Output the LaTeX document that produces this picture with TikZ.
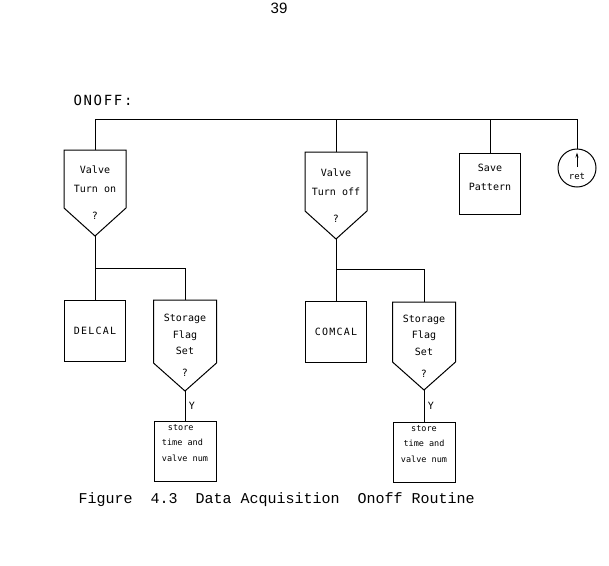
\documentclass[tikz,border=0pt]{standalone}
\usepackage{fontspec}
\setmainfont{Liberation Sans}
\newfontfamily\plotfont{DejaVu Sans Mono}
\newfontfamily\widefont[LetterSpace=12]{DejaVu Sans Mono}
\newfontfamily\typefont{Liberation Mono}
\usetikzlibrary{arrows.meta,positioning}

\begin{document}
\begin{tikzpicture}[x=1pt,y=-1pt,line width=1pt,
		font=\plotfont\fontsize{10}{12}\selectfont,
		decide/.style={rectangle,anchor=north,minimum width=61pt,minimum height=86pt,inner sep=1pt,align=center},
		procbox/.style={draw,rectangle,minimum width=61pt,minimum height=61pt,inner sep=1pt,align=center},
		storebox/.style={procbox,minimum width=62pt,minimum height=60pt,text depth=17pt,font=\plotfont\fontsize{8.5}{15.5}\selectfont},
		ylbl/.style={right,font=\plotfont\fontsize{10}{12}\selectfont}]
	\useasboundingbox (0,0) rectangle (609,565);
	\node[font=\rmfamily\fontsize{15}{15}\selectfont] (pg) at (279,8) {39};
	\node[font=\widefont\fontsize{14}{14}\selectfont,anchor=west,inner sep=0pt] (onoff) at (73,100) {ONOFF:};
	\coordinate (bus) at (95,119);
	\coordinate (j_on) at (95,268);
	\coordinate (j_off) at (336,269);

	\node[decide,minimum height=85pt] (d_on) at (95,150) {Valve\\[7pt]Turn on\\[15pt]?};
	\node[decide] (d_off) at (336,152) {Valve\\[7pt]Turn off\\[15pt]?};
	\node[procbox,anchor=north,text depth=14pt] (save) at (490,153) {Save\\[7pt]Pattern};
	\node[circle,draw,minimum size=38pt,inner sep=0pt] (ret) at (577,168) {};
	\node[font=\plotfont\fontsize{9}{9}\selectfont] (ret_t) at ([yshift=-8pt]ret.center) {ret};

	\node[procbox,anchor=north,font=\widefont\fontsize{10}{12}\selectfont] (delcal) at (95,300) {DELCAL};
	\node[decide,minimum width=62pt,minimum height=90pt] (s_on) at (185,300) {Storage\\[4.5pt]Flag\\[4.5pt]Set\\[10pt]?};
	\node[storebox,align=left] (st_on) [below=30pt of s_on] {\hspace{6pt}store\\time and\\valve num};

	\node[procbox,anchor=north,font=\widefont\fontsize{10}{12}\selectfont] (comcal) at (336,301) {COMCAL};
	\node[decide,minimum width=62pt,minimum height=87pt] (s_off) at (424,302) {Storage\\[4.5pt]Flag\\[4.5pt]Set\\[10pt]?};
	\node[storebox] (st_off) [below=32pt of s_off] {store\\time and\\valve num};

	\foreach \n in {d_on,d_off,s_on,s_off}
		\draw (\n.north west) -- ([yshift=28pt]\n.south west) -- (\n.south) -- ([yshift=28pt]\n.south east) -- (\n.north east) -- cycle;

	\draw (d_on.north) -- (bus) -| (ret.north);
	\draw (d_off.north) -- (d_off.north |- bus);
	\draw (save.north) -- (save.north |- bus);
	\draw[-{Stealth[length=5pt,width=3pt]}] ([yshift=1pt]ret.center) -- ([yshift=-4pt]ret.north);

	\draw (d_on.south) -- (delcal.north);
	\draw (j_on) -| (s_on.north);
	\path (s_on.south) edge node[ylbl] {Y} (st_on.north);

	\draw (d_off.south) -- (comcal.north);
	\draw (j_off) -| (s_off.north);
	\path (s_off.south) edge node[ylbl] {Y} (st_off.north);

	\node[font=\typefont\fontsize{15}{15}\selectfont,anchor=west,inner sep=0pt] (cap) at (78,500) {Figure\ \ 4.3\ \ Data Acquisition\ \ Onoff Routine};
\end{tikzpicture}
\end{document}
